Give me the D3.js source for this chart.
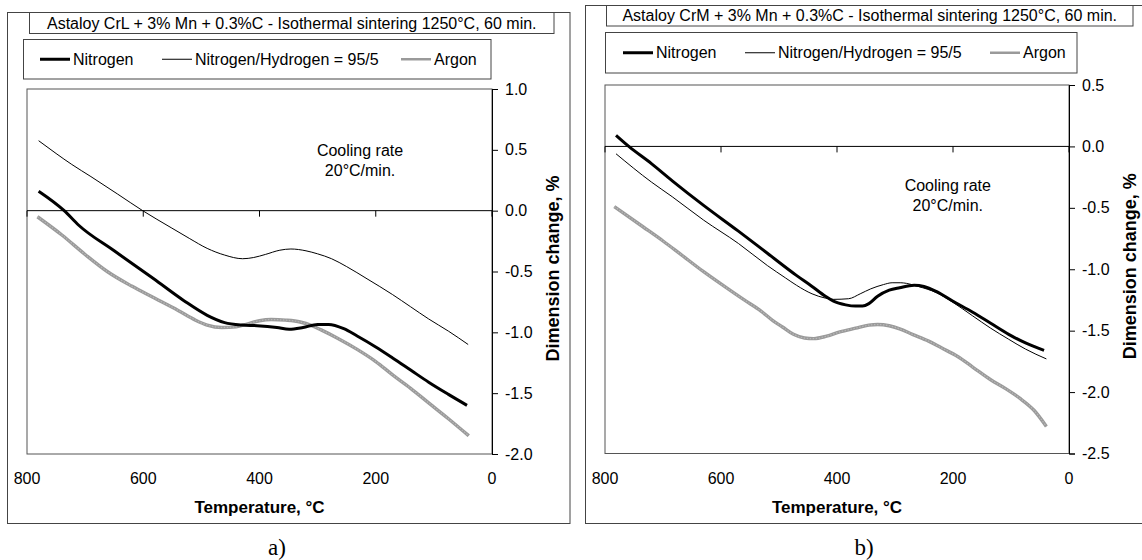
<!DOCTYPE html>
<html>
<head>
<meta charset="utf-8">
<script src="https://cdn.jsdelivr.net/npm/d3@7"></script>
<style>
body{margin:0;background:#fff;}
text{font-family:Arial,"Liberation Sans",sans-serif;fill:#000;}
</style>
</head>
<body>
<script>
// ---- data ----
var seriesNames=["Nitrogen","Nitrogen/Hydrogen = 95/5","Argon"];
var tempTicks=[800,600,400,200,0];
var yTicksCrL=[1.0,0.5,0.0,-0.5,-1.0,-1.5,-2.0];
var yTicksCrM=[0.5,0.0,-0.5,-1.0,-1.5,-2.0,-2.5];
var titleCrL="Astaloy CrL + 3% Mn + 0.3%C - Isothermal sintering 1250°C, 60 min.";
var titleCrM="Astaloy CrM + 3% Mn + 0.3%C - Isothermal sintering 1250°C, 60 min.";
var noteLines=["Cooling rate","20°C/min."];

// [temperature °C, dimension change %]
var crlNitrogen=[[780,0.16],[736,0.0],[711,-0.12],[650,-0.33],[582,-0.56],[530,-0.74],[490,-0.86],[460,-0.92],
  [430,-0.94],[404,-0.945],[370,-0.96],[349,-0.975],[325,-0.96],[300,-0.935],[281,-0.935],[255,-0.97],
  [232,-1.03],[200,-1.12],[171,-1.21],[140,-1.31],[109,-1.41],[75,-1.51],[43,-1.6]];
var crlN2H2=[[780,0.575],[750,0.47],[723,0.38],[690,0.28],[644,0.136],[601,0.0],[552,-0.14],[520,-0.23],
  [490,-0.31],[460,-0.365],[429,-0.395],[410,-0.385],[390,-0.36],[365,-0.325],[346,-0.315],[320,-0.33],
  [300,-0.355],[276,-0.395],[250,-0.46],[215,-0.56],[171,-0.69],[140,-0.79],[109,-0.89],[75,-0.99],[41,-1.1]];
var crlArgon=[[782,-0.05],[740,-0.2],[700,-0.36],[662,-0.5],[620,-0.62],[580,-0.72],[540,-0.82],[510,-0.9],
  [490,-0.94],[465,-0.96],[440,-0.955],[420,-0.93],[400,-0.905],[380,-0.895],[355,-0.9],[330,-0.915],
  [310,-0.945],[294,-0.98],[265,-1.05],[232,-1.14],[200,-1.24],[171,-1.35],[140,-1.46],[109,-1.58],
  [75,-1.71],[40,-1.85]];

var crmNitrogen=[[781,0.09],[759,0.0],[720,-0.14],[684,-0.28],[630,-0.48],[570,-0.69],[520,-0.87],[470,-1.05],
  [443,-1.14],[420,-1.22],[406,-1.26],[385,-1.29],[368,-1.30],[356,-1.30],[345,-1.28],[330,-1.22],
  [310,-1.17],[292,-1.15],[267,-1.13],[250,-1.14],[229,-1.18],[200,-1.26],[166,-1.35],[135,-1.44],
  [104,-1.53],[75,-1.6],[43,-1.66]];
var crmN2H2=[[781,-0.06],[720,-0.29],[684,-0.41],[630,-0.6],[570,-0.79],[520,-0.97],[489,-1.07],[470,-1.13],
  [443,-1.2],[420,-1.235],[406,-1.245],[380,-1.24],[360,-1.2],[342,-1.16],[320,-1.125],[305,-1.11],
  [290,-1.11],[280,-1.115],[260,-1.14],[229,-1.19],[200,-1.27],[166,-1.38],[135,-1.48],[104,-1.57],
  [75,-1.65],[39,-1.73]];
var crmArgon=[[784,-0.49],[734,-0.656],[700,-0.77],[671,-0.873],[630,-1.02],[594,-1.14],[560,-1.25],[531,-1.34],
  [510,-1.42],[494,-1.47],[475,-1.53],[456,-1.56],[440,-1.565],[418,-1.545],[395,-1.51],[368,-1.48],
  [345,-1.455],[330,-1.45],[310,-1.46],[292,-1.485],[270,-1.53],[242,-1.585],[220,-1.64],[192,-1.71],
  [165,-1.8],[135,-1.9],[110,-1.97],[85,-2.05],[60,-2.15],[39,-2.28]];

var W=1142,H=560;
var svg=d3.select("body").append("svg").attr("width",W).attr("height",H);
svg.append("rect").attr("width",W).attr("height",H).attr("fill","#fff");

var styles=[{w:3,c:"#000"},{w:1,c:"#000"},{w:3.4,c:"#9a9a9a"}];
var fmt=function(d){return d.toFixed(1);};

function drawPanel(p){
  var g=svg.append("g");
  // outer frame, title box, legend box
  g.append("rect").attr("x",p.frame[0]).attr("y",p.frame[1]).attr("width",p.frame[2]).attr("height",p.frame[3])
   .attr("fill","none").attr("stroke","#444");
  g.append("rect").attr("x",p.tbox[0]).attr("y",p.tbox[1]).attr("width",p.tbox[2]).attr("height",p.tbox[3])
   .attr("fill","#fff").attr("stroke","#444");
  g.append("text").attr("x",p.tbox[0]+p.tbox[2]/2).attr("y",p.tbox[1]+p.tbox[3]/2).attr("dy","0.35em")
   .attr("text-anchor","middle").style("font-size","16px").text(p.title);
  g.append("rect").attr("x",p.lbox[0]).attr("y",p.lbox[1]).attr("width",p.lbox[2]).attr("height",p.lbox[3])
   .attr("fill","#fff").attr("stroke","#444");
  var ly=p.lbox[1]+p.lbox[3]/2;
  seriesNames.forEach(function(n,i){
    var lx=p.legX[i];
    g.append("line").attr("x1",lx-33).attr("x2",lx-3).attr("y1",ly).attr("y2",ly)
     .attr("stroke",styles[i].c).attr("stroke-width",i==2?2.5:styles[i].w);
    g.append("text").attr("x",lx).attr("y",ly).attr("dy","0.35em").style("font-size","16px").text(n);
  });

  var x=d3.scaleLinear().domain([800,0]).range([p.plot[0],p.plot[1]]);
  var y=d3.scaleLinear().domain(p.yDom).range([p.plot[3],p.plot[2]]);

  // plot-area border
  g.append("rect").attr("x",p.plot[0]).attr("y",p.plot[2]).attr("width",p.plot[1]-p.plot[0])
   .attr("height",p.plot[3]-p.plot[2]).attr("fill","none").attr("stroke","#555");

  // zero line with ticks pointing down
  var xa=g.append("g").attr("transform","translate(0,"+y(0)+")");
  xa.append("line").attr("x1",p.plot[0]).attr("x2",p.plot[1]).attr("stroke","#000");
  xa.selectAll("line.t").data(tempTicks).enter().append("line").attr("class","t")
    .attr("x1",function(d){return x(d);}).attr("x2",function(d){return x(d);})
    .attr("y1",0).attr("y2",6).attr("stroke","#000");
  g.selectAll("text.xl").data(tempTicks).enter().append("text").attr("class","xl")
   .attr("x",function(d){return x(d);}).attr("y",p.plot[3]+30)
   .attr("text-anchor","middle").style("font-size","16px").text(function(d){return d;});

  var ya=g.append("g").attr("transform","translate("+p.plot[1]+",0)")
    .call(d3.axisRight(y).tickValues(p.yTicks).tickFormat(fmt).tickSize(6).tickPadding(7));
  ya.select(".domain").attr("stroke","#000");
  ya.selectAll("text").style("font-size","16px").style("font-family","Arial,'Liberation Sans',sans-serif");

  // axis titles
  g.append("text").attr("x",x(400)).attr("y",p.plot[3]+59).attr("text-anchor","middle")
   .style("font-size","17px").style("font-weight","bold").text("Temperature, °C");
  g.append("text").attr("transform","translate("+(p.plot[1]+67)+","+((p.plot[2]+p.plot[3])/2-3)+") rotate(-90)")
   .attr("text-anchor","middle").style("font-size","18px").style("font-weight","bold").text("Dimension change,  %");

  // annotation
  noteLines.forEach(function(t,i){
    g.append("text").attr("x",x(p.note[0])).attr("y",y(p.note[1])+i*20).attr("dy","0.35em")
     .attr("text-anchor","middle").style("font-size","16px").text(t);
  });

  // curves
  var line=d3.line().x(function(d){return x(d[0]);}).y(function(d){return y(d[1]);}).curve(d3.curveMonotoneX);
  [p.data[2],p.data[1],p.data[0]].forEach(function(s,k){
    var i=2-k;
    g.append("path").datum(s).attr("d",line).attr("fill","none")
     .attr("stroke",styles[i].c).attr("stroke-width",styles[i].w).attr("stroke-linejoin","round");
    if(i==2){
      g.append("path").datum(s).attr("d",line).attr("fill","none")
       .attr("stroke","#b8b8b8").attr("stroke-width",1.2).attr("stroke-dasharray","1.5,1.5");
    }
  });

  svg.append("text").attr("x",p.sub[0]).attr("y",p.sub[1]).attr("text-anchor","middle")
   .style("font-family","'Liberation Serif','Times New Roman',serif").style("font-size","23px").text(p.subLabel);
}

drawPanel({frame:[7.5,12.5,562.5,511],tbox:[29.5,12.5,524.5,21],lbox:[23.5,39.5,467.5,39.5],
  legX:[73,195,434],plot:[27,492,89,454],yDom:[-2,1],yTicks:yTicksCrL,title:titleCrL,
  data:[crlNitrogen,crlN2H2,crlArgon],note:[227,0.495],sub:[277,555],subLabel:"a)"});
drawPanel({frame:[585.5,5.5,570,518],tbox:[606.5,5.5,526.5,20.5],lbox:[605.5,32.5,471.5,40.5],
  legX:[656,778,1023],plot:[605,1069,85,453.5],yDom:[-2.5,0.5],yTicks:yTicksCrM,title:titleCrM,
  data:[crmNitrogen,crmN2H2,crmArgon],note:[209,-0.317],sub:[864,555],subLabel:"b)"});
</script>
</body>
</html>
